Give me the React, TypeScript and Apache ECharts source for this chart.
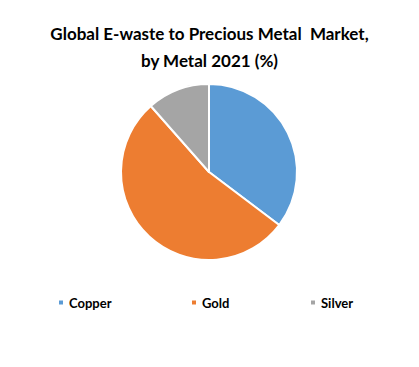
import React, { useEffect, useRef } from "react";
import * as echarts from "echarts";

const categories = ["Copper", "Gold", "Silver"];
const values = [35.3, 53.2, 11.5];
const colors = ["#5B9BD5", "#ED7D31", "#A5A5A5"];
const legendLefts = [57, 190, 309];

export default function App() {
  const ref = useRef<HTMLDivElement>(null);
  useEffect(() => {
    const chart = echarts.init(ref.current!, null, { renderer: "svg" });
    chart.setOption({
      animation: false,
      backgroundColor: "#ffffff",
      title: {
        text: "Global E-waste to Precious Metal  Market,\nby Metal 2021 (%)",
        left: "center",
        top: 15,
        textStyle: {
          fontFamily: "Lato",
          fontWeight: "bold",
          fontSize: 17,
          lineHeight: 27,
          color: "#000000",
        },
      },
      legend: categories.map((c, i) => ({
        data: [c],
        left: legendLefts[i],
        top: 296,
        padding: 0,
        icon: "rect",
        itemWidth: 6,
        itemHeight: 6,
        itemGap: 4,
        textStyle: {
          fontFamily: "Lato",
          fontWeight: "bold",
          fontSize: 13,
          color: "#000000",
        },
      })),
      series: [
        {
          type: "pie",
          center: [209, 172],
          radius: 88,
          startAngle: 90,
          clockwise: true,
          label: { show: false },
          labelLine: { show: false },
          itemStyle: { borderColor: "#ffffff", borderWidth: 2 },
          emphasis: { disabled: true },
          data: categories.map((c, i) => ({
            name: c,
            value: values[i],
            itemStyle: { color: colors[i] },
          })),
        },
      ],
    });
    return () => chart.dispose();
  }, []);
  return <div ref={ref} style={{ width: 419, height: 367, margin: -8 }} />;
}
